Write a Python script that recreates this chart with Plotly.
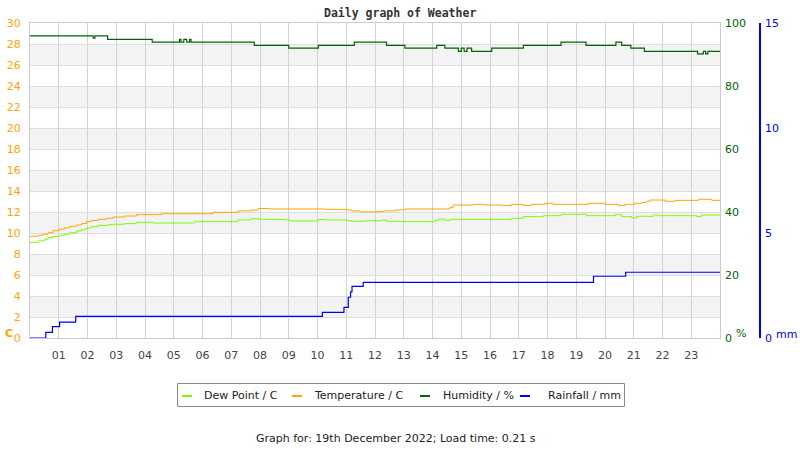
import plotly.graph_objects as go

# ---------------- data ----------------
hour_labels = ["%02d" % h for h in range(1, 24)]
hour_ticks = list(range(1, 24))

temp_t = [0, 0.28, 0.45, 0.63, 0.80, 1.03, 1.20, 1.38, 1.61, 1.79, 1.96, 2.13, 2.37, 2.66, 2.89,
          3.29, 3.70, 4.57, 6.37, 7.23, 7.70, 7.93, 8.30, 10.26, 11.01, 11.19, 11.48, 12.00, 12.29,
          12.70, 13.04, 14.61, 14.72, 15.42, 15.77, 16.40, 16.75, 17.16, 17.45, 17.91, 18.20, 19.42,
          20.00, 20.46, 20.70, 21.04, 21.28, 21.45, 21.57, 22.09, 22.43, 23.25, 23.71, 24.0]
temp_v = [9.69, 9.78, 9.88, 10.03, 10.22, 10.38, 10.50, 10.63, 10.76, 10.90, 11.08, 11.20, 11.30, 11.40, 11.52,
          11.62, 11.75, 11.84, 11.97, 12.10, 12.19, 12.33, 12.29, 12.25, 12.19, 12.10, 12.00, 12.03, 12.10,
          12.19, 12.29, 12.44, 12.67, 12.73, 12.67, 12.63, 12.73, 12.63, 12.73, 12.83, 12.73, 12.83,
          12.73, 12.63, 12.73, 12.83, 12.92, 13.03, 13.14, 13.02, 13.11, 13.21, 13.11, 13.11]

dew_t = [0, 0.28, 0.50, 0.63, 0.80, 1.03, 1.20, 1.38, 1.61, 1.79, 1.96, 2.13, 2.37, 2.75, 2.89, 3.29,
         3.70, 4.28, 5.73, 7.23, 7.70, 7.93, 8.87, 9.04, 10.03, 10.26, 11.01, 11.19, 11.65, 12.23, 12.40,
         13.04, 14.09, 14.20, 14.43, 14.61, 16.75, 17.16, 17.86, 18.49, 19.36, 20.35, 20.58, 20.93,
         21.10, 21.68, 21.85, 23.19, 23.36, 24.0]
dew_v = [9.11, 9.24, 9.40, 9.56, 9.68, 9.78, 9.90, 10.03, 10.19, 10.32, 10.48, 10.60, 10.73, 10.80, 10.83, 10.89,
         11.02, 10.95, 11.08, 11.24, 11.36, 11.30, 11.24, 11.14, 11.30, 11.24, 11.17, 11.11, 11.17, 11.24, 11.11,
         11.08, 11.20, 11.33, 11.20, 11.30, 11.40, 11.56, 11.65, 11.78, 11.65, 11.75, 11.56, 11.43,
         11.59, 11.72, 11.65, 11.56, 11.71, 11.71]

hum_t = [0, 2.20, 2.26, 2.70, 4.25, 5.20, 5.25, 5.35, 5.45, 5.55, 5.60, 7.80, 9.00, 10.03, 11.28, 12.40,
         13.04, 14.15, 14.43, 14.90, 15.00, 15.10, 15.20, 15.36, 16.06, 17.16, 18.47, 19.34, 20.38, 20.58,
         20.90, 21.37, 23.22, 23.42, 23.50, 23.58, 23.65, 24.0]
hum_v = [95.9, 95.2, 95.9, 94.8, 93.9, 94.8, 93.9, 94.8, 93.9, 94.8, 93.9, 92.9, 92.0, 92.9, 93.9, 92.9,
         92.0, 92.9, 92.0, 91.0, 92.0, 91.0, 92.0, 91.0, 92.0, 92.9, 93.9, 92.9, 93.9, 92.9,
         92.0, 91.0, 90.2, 91.0, 90.2, 91.0, 91.0, 91.0]

rain_t = [0, 0.55, 0.78, 1.03, 1.59, 10.17, 10.92, 11.07, 11.15, 11.20, 11.59, 19.60, 20.72, 24.0]
rain_v = [0, 0.27, 0.54, 0.76, 1.03, 1.22, 1.46, 1.94, 2.20, 2.46, 2.65, 2.94, 3.13, 3.13]

temp_ticks = list(range(0, 31, 2))
hum_ticks = [0, 20, 40, 60, 80, 100]
rain_ticks = [0, 5, 10, 15]
band_lows = [2, 6, 10, 14, 18, 22, 26]

series_names = ["Dew Point / C", "Temperature / C", "Humidity / %", "Rainfall / mm"]
series_colors = ["#7cfc00", "#ffa500", "#006400", "#0000ff"]

# ---------------- figure ----------------
W, H = 800, 450
ML, MR, MT, MB = 30, 20, 23, 112
PW = W - ML - MR
PH = H - MT - MB
X_RIGHT = 720
RAIN_X = 760

FONT = "DejaVu Sans"

fig = go.Figure()
fig.add_trace(go.Scatter(x=dew_t, y=dew_v, mode="lines", line=dict(color=series_colors[0], width=1, shape="hv"),
                         name=series_names[0], yaxis="y", showlegend=False))
fig.add_trace(go.Scatter(x=temp_t, y=temp_v, mode="lines", line=dict(color=series_colors[1], width=1, shape="hv"),
                         name=series_names[1], yaxis="y", showlegend=False))
fig.add_trace(go.Scatter(x=hum_t, y=hum_v, mode="lines", line=dict(color=series_colors[2], width=1.2, shape="hv"),
                         name=series_names[2], yaxis="y2", showlegend=False))
fig.add_trace(go.Scatter(x=rain_t, y=rain_v, mode="lines", line=dict(color=series_colors[3], width=1.2, shape="hv"),
                         name=series_names[3], yaxis="y3", showlegend=False))

shapes = []
for lo in band_lows:
    shapes.append(dict(type="rect", xref="x domain", yref="y", x0=0, x1=1, y0=lo, y1=lo + 2,
                       fillcolor="#f3f3f3", line=dict(width=0), layer="below"))


def px_x(p):
    return (p - ML) / PW


def px_y(p):
    return (H - MB - p) / PH


# legend box (drawn manually to match the compact original)
shapes.append(dict(type="rect", xref="paper", yref="paper", x0=px_x(177.5), x1=px_x(624.5),
                   y0=px_y(406.5), y1=px_y(383.5), line=dict(color="#888888", width=1),
                   fillcolor="rgba(0,0,0,0)"))
leg_sym_x = [182, 292, 420, 520]
leg_txt_x = [202, 312, 441, 546]
annotations = []
for i in range(4):
    shapes.append(dict(type="line", xref="paper", yref="paper", x0=px_x(leg_sym_x[i]), x1=px_x(leg_sym_x[i] + 10),
                       y0=px_y(396), y1=px_y(396), line=dict(color=series_colors[i], width=2)))
    annotations.append(dict(text=series_names[i], xref="paper", yref="paper", x=px_x(leg_txt_x[i]), y=px_y(395),
                            xanchor="left", yanchor="middle", showarrow=False,
                            font=dict(family=FONT, size=11, color="#222222")))

annotations += [
    dict(text="<b>Daily graph of Weather</b>", xref="paper", yref="paper", x=px_x(400), y=px_y(13),
         xanchor="center", yanchor="middle", showarrow=False,
         font=dict(family="DejaVu Sans Mono", size=11.5, color="#333333")),
    dict(text="Graph for: 19th December 2022; Load time: 0.21 s", xref="paper", yref="paper",
         x=px_x(396), y=px_y(438), xanchor="center", yanchor="middle", showarrow=False,
         font=dict(family=FONT, size=11, color="#222222")),
    dict(text="<b>C</b>", xref="paper", yref="paper", x=px_x(3), y=px_y(333), xanchor="left", yanchor="middle",
         showarrow=False, font=dict(family=FONT, size=11, color="#ffa500")),
    dict(text="%", xref="paper", yref="paper", x=px_x(734), y=px_y(333), xanchor="left", yanchor="middle",
         showarrow=False, font=dict(family=FONT, size=11, color="#006400")),
    dict(text="mm", xref="paper", yref="paper", x=px_x(774), y=px_y(334), xanchor="left", yanchor="middle",
         showarrow=False, font=dict(family=FONT, size=11, color="#0000ff")),
]

fig.update_layout(
    width=W, height=H,
    margin=dict(l=ML, r=MR, t=MT, b=MB, pad=0, autoexpand=False),
    paper_bgcolor="white", plot_bgcolor="white",
    showlegend=False,
    shapes=shapes,
    annotations=annotations,
    xaxis=dict(domain=[0, (X_RIGHT - ML) / PW], range=[0, 24], tickvals=hour_ticks, ticktext=hour_labels,
               showgrid=True, gridcolor="#d3d3d3", gridwidth=1, zeroline=False, automargin=False,
               showline=True, linecolor="#cccccc", linewidth=1, mirror=True,
               ticks="", ticklabelstandoff=7,
               tickfont=dict(family=FONT, size=11, color="#444444")),
    yaxis=dict(range=[0, 30], tickvals=temp_ticks, showgrid=True, gridcolor="#dddddd", gridwidth=1,
               zeroline=False, showline=True, linecolor="#cccccc", linewidth=1, mirror=True,
               ticks="", ticklabelstandoff=6, automargin=False,
               tickfont=dict(family=FONT, size=11, color="#ffa500")),
    yaxis2=dict(range=[0, 100], tickvals=hum_ticks, overlaying="y", side="right", anchor="x",
                showgrid=False, zeroline=False, showline=False, ticks="", ticklabelstandoff=4,
                automargin=False,
                tickfont=dict(family=FONT, size=11, color="#006400")),
    yaxis3=dict(range=[0, 15], tickvals=rain_ticks, overlaying="y", side="right", anchor="free",
                position=(RAIN_X - ML) / PW, showgrid=False, zeroline=False, automargin=False,
                showline=True, linecolor="#0000ff", linewidth=1.5, ticks="", ticklabelstandoff=2,
                tickfont=dict(family=FONT, size=11, color="#0000ff")),
)

fig.write_html("out.html")
